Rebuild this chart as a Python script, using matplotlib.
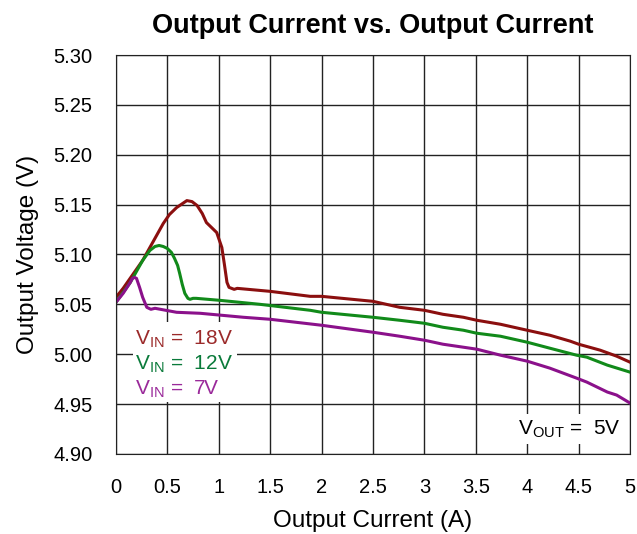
import matplotlib
matplotlib.use("Agg")
import numpy as np
import matplotlib.pyplot as plt
from matplotlib.patches import Rectangle

plt.rcParams['font.family'] = ['Liberation Sans', 'DejaVu Sans']
plt.rcParams['mathtext.fontset'] = 'custom'
plt.rcParams['mathtext.rm'] = 'Liberation Sans'

# readings
x_18 = [0.0, 0.07, 0.26, 0.46, 0.52, 0.59, 0.69, 0.74, 0.79, 0.84, 0.88, 0.98, 1.03, 1.055, 1.08, 1.10, 1.15, 1.18,
        1.5, 1.89, 2.0, 2.5, 2.76, 3.0, 3.18, 3.38, 3.51, 3.74, 4.0, 4.22, 4.42, 4.5, 4.71, 4.87, 5.0]
v_18 = [5.057, 5.066, 5.094, 5.131, 5.140, 5.147, 5.154, 5.153, 5.149, 5.141, 5.132, 5.122, 5.107, 5.090, 5.072, 5.067, 5.065, 5.066,
        5.063, 5.058, 5.058, 5.053, 5.047, 5.044, 5.040, 5.037, 5.034, 5.030, 5.024, 5.019, 5.013, 5.010, 5.004, 4.998, 4.992]

x_12 = [0.0, 0.14, 0.26, 0.33, 0.38, 0.42, 0.46, 0.5, 0.54, 0.57, 0.60, 0.62, 0.645, 0.67, 0.70, 0.72, 0.75, 0.78,
        1.01, 1.4, 1.89, 2.0, 2.5, 2.76, 3.0, 3.18, 3.38, 3.51, 3.74, 4.0, 4.22, 4.48, 4.58, 4.78, 5.0]
v_12 = [5.052, 5.072, 5.094, 5.104, 5.108, 5.109, 5.108, 5.106, 5.102, 5.096, 5.089, 5.081, 5.070, 5.061, 5.056, 5.055, 5.056, 5.056,
        5.054, 5.050, 5.044, 5.042, 5.037, 5.034, 5.031, 5.027, 5.024, 5.021, 5.018, 5.012, 5.006, 4.999, 4.997, 4.989, 4.982]

x_7 = [0.0, 0.07, 0.14, 0.16, 0.18, 0.20, 0.21, 0.23, 0.26, 0.3, 0.34, 0.38, 0.59, 0.82, 1.24, 1.5, 2.0, 2.5,
       2.76, 3.0, 3.18, 3.51, 3.74, 4.0, 4.22, 4.48, 4.58, 4.78, 4.87, 5.0]
v_7 = [5.052, 5.061, 5.072, 5.076, 5.077, 5.076, 5.073, 5.067, 5.057, 5.047, 5.045, 5.046, 5.042, 5.041, 5.037, 5.035, 5.029, 5.022,
       5.018, 5.014, 5.010, 5.005, 4.999, 4.993, 4.986, 4.976, 4.972, 4.962, 4.959, 4.951]

c18 = '#8b0f0f'
c12 = '#118a1a'
c7 = '#8b118b'

fig = plt.figure(figsize=(6.37, 5.34), dpi=100)
ax = fig.add_axes([0.182, 0.150, 0.807, 0.747])

ax.plot(x_18, v_18, color=c18, lw=2.2)
ax.plot(x_12, v_12, color=c12, lw=2.2)
ax.plot(x_7, v_7, color=c7, lw=2.2)

ax.set_xlim(0, 5)
ax.set_ylim(4.90, 5.30)
ax.set_xticks(np.arange(0, 5.01, 0.5))
ax.set_xticklabels(['0', '0.5', '1', '1.5', '2', '2.5', '3', '3.5', '4', '4.5', '5'])
ax.set_yticks(np.arange(4.90, 5.301, 0.05))
ax.set_yticklabels(['%.2f' % v for v in np.arange(4.90, 5.301, 0.05)])
ax.grid(True, color='#222222', lw=1)
ax.tick_params(labelsize=14.5, length=0, pad=17)
for s in ax.spines.values():
    s.set_color('#222222')

ax.set_xlabel('Output Current (A)', fontsize=17.5, labelpad=10)
ax.set_ylabel('Output Voltage (V)', fontsize=17.5, labelpad=10)
ax.set_title('Output Current vs. Output Current', fontsize=19.5, fontweight='bold', pad=16)

# white panel behind the input-voltage labels
ax.add_patch(Rectangle((0.17, 4.952), 1.01, 0.080, facecolor='white', edgecolor='none', zorder=2.5))
ax.text(0.19, 5.015, r'V$_{\mathrm{IN}}$ =  18V', color='#9b2a2a', fontsize=15, va='center', zorder=3)
ax.text(0.19, 4.990, r'V$_{\mathrm{IN}}$ =  12V', color='#0a7a3a', fontsize=15, va='center', zorder=3)
ax.text(0.19, 4.965, r'V$_{\mathrm{IN}}$ =  7V', color='#9a2a9a', fontsize=15, va='center', zorder=3)
ax.text(4.91, 4.925, r'V$_{\mathrm{OUT}}$ =  5V', color='black', fontsize=15, va='center', ha='right',
        bbox=dict(facecolor='white', edgecolor='none', pad=3), zorder=3)

fig.savefig('out.png', dpi=100)
